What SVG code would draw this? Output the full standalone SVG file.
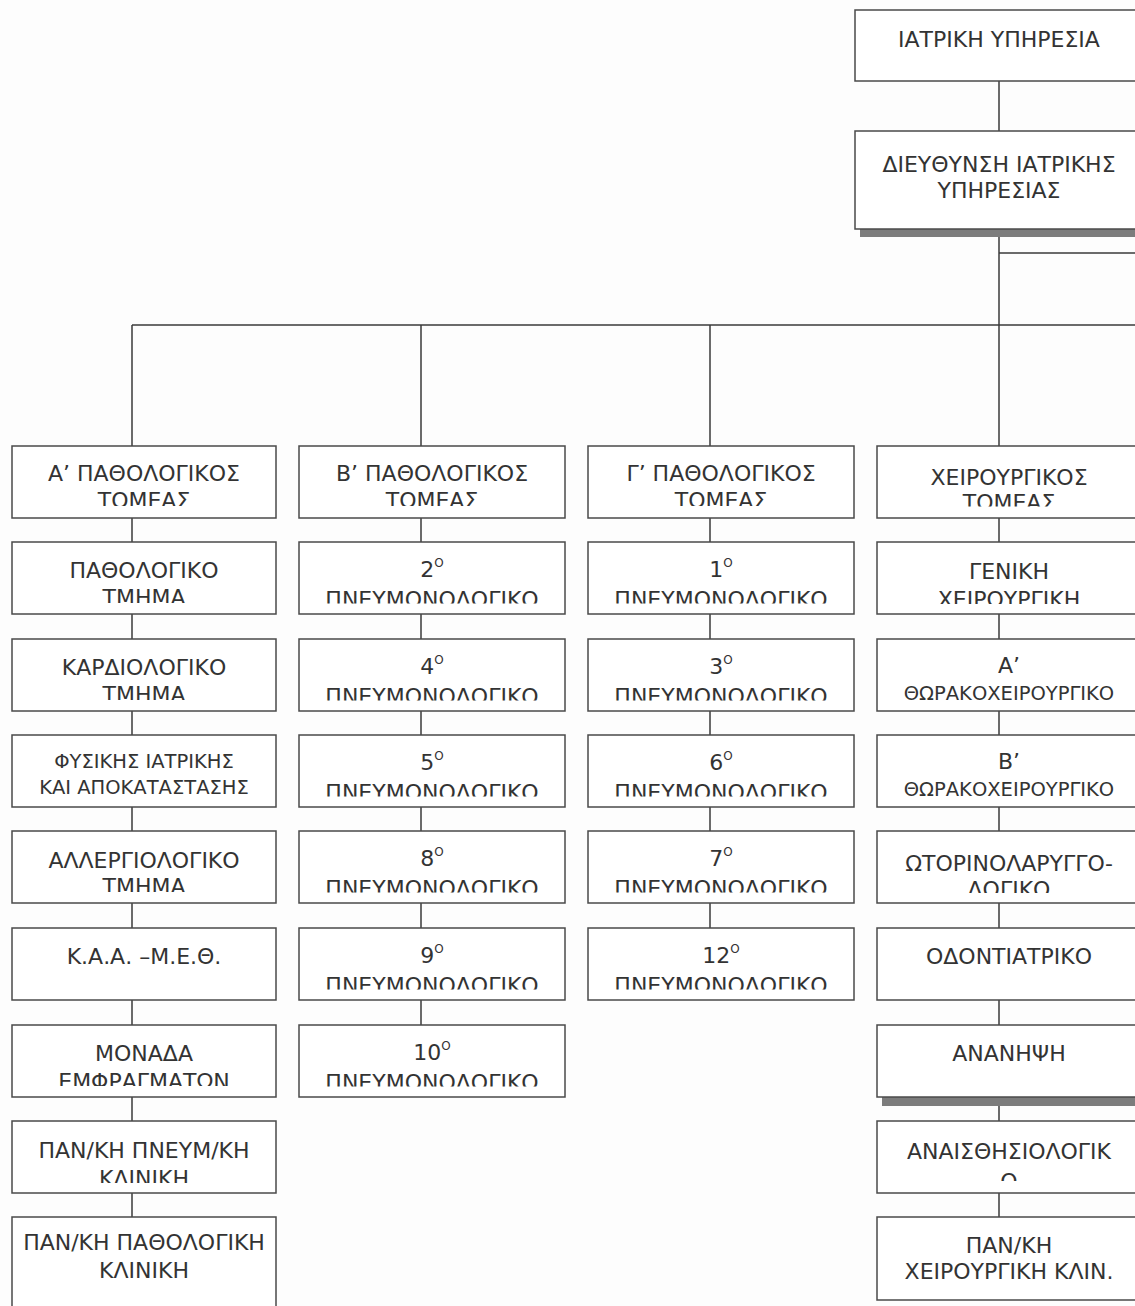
<svg xmlns="http://www.w3.org/2000/svg" width="1135" height="1306" viewBox="0 0 1135 1306">
<style>
.bg{fill:#fdfdfd}
.box{fill:#fff;stroke:#4a4a4a;stroke-width:1.5}
.ln{stroke:#3a3a3a;stroke-width:1.5;fill:none}
.sh{fill:#7c7c7c}
.t{font-family:"DejaVu Sans","Noto Sans",sans-serif;font-size:22px;fill:#333;text-anchor:middle}
.s{font-size:19.5px}
.sup{font-size:12px}
</style>
<defs>
<clipPath id="c1r0"><rect x="12" y="446" width="264" height="60"/></clipPath>
<clipPath id="c1r1"><rect x="12" y="542" width="264" height="61"/></clipPath>
<clipPath id="c1r2"><rect x="12" y="639" width="264" height="61"/></clipPath>
<clipPath id="c1r4"><rect x="12" y="831" width="264" height="61"/></clipPath>
<clipPath id="c1r6"><rect x="12" y="1025" width="264" height="61"/></clipPath>
<clipPath id="c1r7"><rect x="12" y="1121" width="264" height="62"/></clipPath>
<clipPath id="c2r0"><rect x="299" y="446" width="266" height="60"/></clipPath>
<clipPath id="c2r1"><rect x="299" y="542" width="266" height="61.5"/></clipPath>
<clipPath id="c2r2"><rect x="299" y="639" width="266" height="61.5"/></clipPath>
<clipPath id="c2r3"><rect x="299" y="735" width="266" height="61.5"/></clipPath>
<clipPath id="c2r4"><rect x="299" y="831" width="266" height="61.5"/></clipPath>
<clipPath id="c2r5"><rect x="299" y="928" width="266" height="61.5"/></clipPath>
<clipPath id="c2r6"><rect x="299" y="1025" width="266" height="61.5"/></clipPath>
<clipPath id="c3r0"><rect x="588" y="446" width="266" height="60"/></clipPath>
<clipPath id="c3r1"><rect x="588" y="542" width="266" height="61.5"/></clipPath>
<clipPath id="c3r2"><rect x="588" y="639" width="266" height="61.5"/></clipPath>
<clipPath id="c3r3"><rect x="588" y="735" width="266" height="61.5"/></clipPath>
<clipPath id="c3r4"><rect x="588" y="831" width="266" height="61.5"/></clipPath>
<clipPath id="c3r5"><rect x="588" y="928" width="266" height="61.5"/></clipPath>
<clipPath id="c4r0"><rect x="877" y="446" width="264" height="60.5"/></clipPath>
<clipPath id="c4r1"><rect x="877" y="542" width="264" height="62"/></clipPath>
<clipPath id="c4r4"><rect x="877" y="831" width="264" height="62"/></clipPath>
<clipPath id="c4r7"><rect x="877" y="1121" width="264" height="60"/></clipPath>
</defs>
<rect class="bg" x="0" y="0" width="1135" height="1306"/>

<g id="connectors">
<path class="ln" d="M999 81V131"/>
<path class="ln" d="M999 229V1217"/>
<path class="ln" d="M999 253H1135"/>
<path class="ln" d="M132 325H1135"/>
<path class="ln" d="M132 325V1217"/>
<path class="ln" d="M421 325V1025"/>
<path class="ln" d="M710 325V928"/>
</g>

<g id="n-iatriki">
<rect class="box" x="855" y="10" width="290" height="71"/>
<text class="t" x="999" y="47">ΙΑΤΡΙΚΗ ΥΠΗΡΕΣΙΑ</text>
</g>
<g id="n-dieythynsi">
<rect class="sh" x="860" y="229" width="285" height="8"/>
<rect class="box" x="855" y="131" width="290" height="98"/>
<text class="t" x="999" y="172">ΔΙΕΥΘΥΝΣΗ ΙΑΤΡΙΚΗΣ</text>
<text class="t" x="999" y="198">ΥΠΗΡΕΣΙΑΣ</text>
</g>

<!-- Column 1 -->
<g id="n-a-pathologikos">
<rect class="box" x="12" y="446" width="264" height="72"/>
<g clip-path="url(#c1r0)"><text class="t" x="144" y="481">Α’ ΠΑΘΟΛΟΓΙΚΟΣ</text><text class="t" x="144" y="508">ΤΟΜΕΑΣ</text></g>
</g>
<g id="n-pathologiko">
<rect class="box" x="12" y="542" width="264" height="72"/>
<g clip-path="url(#c1r1)"><text class="t" x="144" y="578">ΠΑΘΟΛΟΓΙΚΟ</text><text class="t" x="144" y="605">ΤΜΗΜΑ</text></g>
</g>
<g id="n-kardiologiko">
<rect class="box" x="12" y="639" width="264" height="72"/>
<g clip-path="url(#c1r2)"><text class="t" x="144" y="675">ΚΑΡΔΙΟΛΟΓΙΚΟ</text><text class="t" x="144" y="702">ΤΜΗΜΑ</text></g>
</g>
<g id="n-fysikis">
<rect class="box" x="12" y="735" width="264" height="72"/>
<text class="t s" x="144" y="768">ΦΥΣΙΚΗΣ ΙΑΤΡΙΚΗΣ</text>
<text class="t s" x="144" y="794">ΚΑΙ ΑΠΟΚΑΤΑΣΤΑΣΗΣ</text>
</g>
<g id="n-allergiologiko">
<rect class="box" x="12" y="831" width="264" height="72"/>
<g clip-path="url(#c1r4)"><text class="t" x="144" y="868">ΑΛΛΕΡΓΙΟΛΟΓΙΚΟ</text><text class="t" x="144" y="894">ΤΜΗΜΑ</text></g>
</g>
<g id="n-kaa-meth">
<rect class="box" x="12" y="928" width="264" height="72"/>
<text class="t" x="144" y="964">Κ.Α.Α. –Μ.Ε.Θ.</text>
</g>
<g id="n-monada">
<rect class="box" x="12" y="1025" width="264" height="72"/>
<g clip-path="url(#c1r6)"><text class="t" x="144" y="1061">ΜΟΝΑΔΑ</text><text class="t" x="144" y="1089">ΕΜΦΡΑΓΜΑΤΩΝ</text></g>
</g>
<g id="n-pan-pneum">
<rect class="box" x="12" y="1121" width="264" height="72"/>
<g clip-path="url(#c1r7)"><text class="t" x="144" y="1158">ΠΑΝ/ΚΗ ΠΝΕΥΜ/ΚΗ</text><text class="t" x="144" y="1186">ΚΛΙΝΙΚΗ</text></g>
</g>
<g id="n-pan-pathologiki">
<rect class="box" x="12" y="1217" width="264" height="95"/>
<text class="t" x="144" y="1250">ΠΑΝ/ΚΗ ΠΑΘΟΛΟΓΙΚΗ</text>
<text class="t" x="144" y="1278">ΚΛΙΝΙΚΗ</text>
</g>

<!-- Column 2 -->
<g id="n-b-pathologikos">
<rect class="box" x="299" y="446" width="266" height="72"/>
<g clip-path="url(#c2r0)"><text class="t" x="432" y="481">Β’ ΠΑΘΟΛΟΓΙΚΟΣ</text><text class="t" x="432" y="508">ΤΟΜΕΑΣ</text></g>
</g>
<g id="n-pneum-2">
<rect class="box" x="299" y="542" width="266" height="72"/>
<g clip-path="url(#c2r1)"><text class="t" x="432" y="577">2<tspan class="sup" dy="-10">Ο</tspan></text><text class="t" x="432" y="607">ΠΝΕΥΜΟΝΟΛΟΓΙΚΟ</text></g>
</g>
<g id="n-pneum-4">
<rect class="box" x="299" y="639" width="266" height="72"/>
<g clip-path="url(#c2r2)"><text class="t" x="432" y="674">4<tspan class="sup" dy="-10">Ο</tspan></text><text class="t" x="432" y="704">ΠΝΕΥΜΟΝΟΛΟΓΙΚΟ</text></g>
</g>
<g id="n-pneum-5">
<rect class="box" x="299" y="735" width="266" height="72"/>
<g clip-path="url(#c2r3)"><text class="t" x="432" y="770">5<tspan class="sup" dy="-10">Ο</tspan></text><text class="t" x="432" y="800">ΠΝΕΥΜΟΝΟΛΟΓΙΚΟ</text></g>
</g>
<g id="n-pneum-8">
<rect class="box" x="299" y="831" width="266" height="72"/>
<g clip-path="url(#c2r4)"><text class="t" x="432" y="866">8<tspan class="sup" dy="-10">Ο</tspan></text><text class="t" x="432" y="896">ΠΝΕΥΜΟΝΟΛΟΓΙΚΟ</text></g>
</g>
<g id="n-pneum-9">
<rect class="box" x="299" y="928" width="266" height="72"/>
<g clip-path="url(#c2r5)"><text class="t" x="432" y="963">9<tspan class="sup" dy="-10">Ο</tspan></text><text class="t" x="432" y="993">ΠΝΕΥΜΟΝΟΛΟΓΙΚΟ</text></g>
</g>
<g id="n-pneum-10">
<rect class="box" x="299" y="1025" width="266" height="72"/>
<g clip-path="url(#c2r6)"><text class="t" x="432" y="1060">10<tspan class="sup" dy="-10">Ο</tspan></text><text class="t" x="432" y="1090">ΠΝΕΥΜΟΝΟΛΟΓΙΚΟ</text></g>
</g>

<!-- Column 3 -->
<g id="n-g-pathologikos">
<rect class="box" x="588" y="446" width="266" height="72"/>
<g clip-path="url(#c3r0)"><text class="t" x="721" y="481">Γ’ ΠΑΘΟΛΟΓΙΚΟΣ</text><text class="t" x="721" y="508">ΤΟΜΕΑΣ</text></g>
</g>
<g id="n-pneum-1">
<rect class="box" x="588" y="542" width="266" height="72"/>
<g clip-path="url(#c3r1)"><text class="t" x="721" y="577">1<tspan class="sup" dy="-10">Ο</tspan></text><text class="t" x="721" y="607">ΠΝΕΥΜΟΝΟΛΟΓΙΚΟ</text></g>
</g>
<g id="n-pneum-3">
<rect class="box" x="588" y="639" width="266" height="72"/>
<g clip-path="url(#c3r2)"><text class="t" x="721" y="674">3<tspan class="sup" dy="-10">Ο</tspan></text><text class="t" x="721" y="704">ΠΝΕΥΜΟΝΟΛΟΓΙΚΟ</text></g>
</g>
<g id="n-pneum-6">
<rect class="box" x="588" y="735" width="266" height="72"/>
<g clip-path="url(#c3r3)"><text class="t" x="721" y="770">6<tspan class="sup" dy="-10">Ο</tspan></text><text class="t" x="721" y="800">ΠΝΕΥΜΟΝΟΛΟΓΙΚΟ</text></g>
</g>
<g id="n-pneum-7">
<rect class="box" x="588" y="831" width="266" height="72"/>
<g clip-path="url(#c3r4)"><text class="t" x="721" y="866">7<tspan class="sup" dy="-10">Ο</tspan></text><text class="t" x="721" y="896">ΠΝΕΥΜΟΝΟΛΟΓΙΚΟ</text></g>
</g>
<g id="n-pneum-12">
<rect class="box" x="588" y="928" width="266" height="72"/>
<g clip-path="url(#c3r5)"><text class="t" x="721" y="963">12<tspan class="sup" dy="-10">Ο</tspan></text><text class="t" x="721" y="993">ΠΝΕΥΜΟΝΟΛΟΓΙΚΟ</text></g>
</g>

<!-- Column 4 -->
<g id="n-xeirourgikos">
<rect class="box" x="877" y="446" width="264" height="72"/>
<g clip-path="url(#c4r0)"><text class="t" x="1009" y="485">ΧΕΙΡΟΥΡΓΙΚΟΣ</text><text class="t" x="1009" y="510">ΤΟΜΕΑΣ</text></g>
</g>
<g id="n-geniki">
<rect class="box" x="877" y="542" width="264" height="72"/>
<g clip-path="url(#c4r1)"><text class="t" x="1009" y="579">ΓΕΝΙΚΗ</text><text class="t" x="1009" y="607">ΧΕΙΡΟΥΡΓΙΚΗ</text></g>
</g>
<g id="n-a-thorako">
<rect class="box" x="877" y="639" width="264" height="72"/>
<text class="t" x="1009" y="673">Α’</text>
<text class="t s" x="1009" y="700">ΘΩΡΑΚΟΧΕΙΡΟΥΡΓΙΚΟ</text>
</g>
<g id="n-b-thorako">
<rect class="box" x="877" y="735" width="264" height="72"/>
<text class="t" x="1009" y="769">Β’</text>
<text class="t s" x="1009" y="796">ΘΩΡΑΚΟΧΕΙΡΟΥΡΓΙΚΟ</text>
</g>
<g id="n-orl">
<rect class="box" x="877" y="831" width="264" height="72"/>
<g clip-path="url(#c4r4)"><text class="t" x="1009" y="871">ΩΤΟΡΙΝΟΛΑΡΥΓΓΟ-</text><text class="t" x="1009" y="897">ΛΟΓΙΚΟ</text></g>
</g>
<g id="n-odontiatriko">
<rect class="box" x="877" y="928" width="264" height="72"/>
<text class="t" x="1009" y="964">ΟΔΟΝΤΙΑΤΡΙΚΟ</text>
</g>
<g id="n-ananipsi">
<rect class="sh" x="882" y="1097" width="260" height="9"/>
<rect class="box" x="877" y="1025" width="264" height="72"/>
<text class="t" x="1009" y="1061">ΑΝΑΝΗΨΗ</text>
</g>
<g id="n-anaisthisiologiko">
<rect class="box" x="877" y="1121" width="264" height="72"/>
<g clip-path="url(#c4r7)"><text class="t" x="1009" y="1159">ΑΝΑΙΣΘΗΣΙΟΛΟΓΙΚ</text><text class="t" x="1009" y="1189">Ο</text></g>
</g>
<g id="n-pan-xeirourgiki">
<rect class="box" x="877" y="1217" width="264" height="83"/>
<text class="t" x="1009" y="1253">ΠΑΝ/ΚΗ</text>
<text class="t" x="1009" y="1279">ΧΕΙΡΟΥΡΓΙΚΗ ΚΛΙΝ.</text>
</g>
</svg>
